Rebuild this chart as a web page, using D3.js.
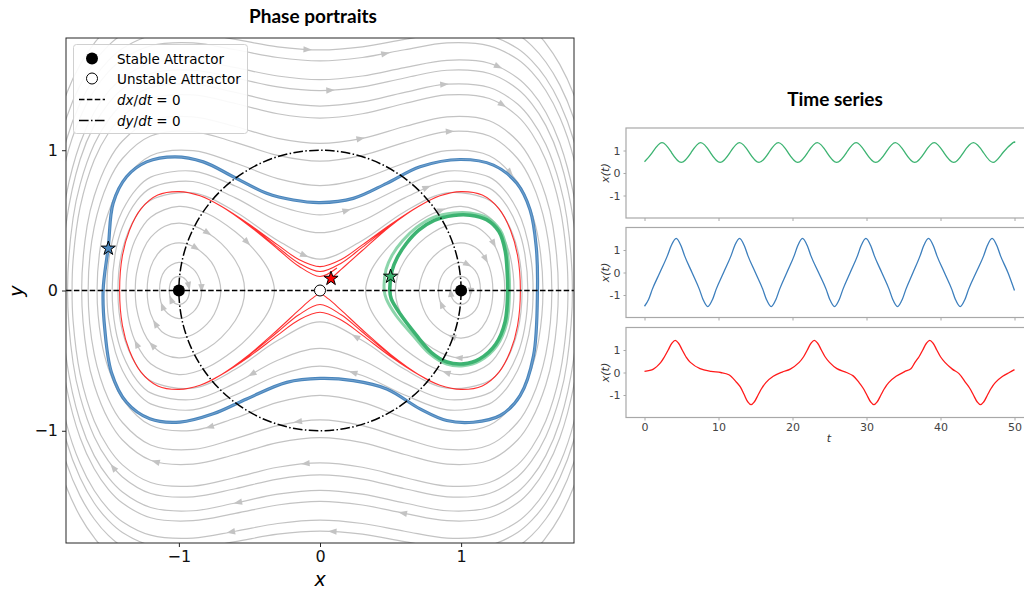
<!DOCTYPE html>
<html><head><meta charset="utf-8">
<script src="https://cdn.jsdelivr.net/npm/d3@7"></script>
<style>
body{margin:0;background:#fff;}
svg{display:block;font-family:"DejaVu Sans",sans-serif;}
</style>
</head><body>
<svg id="chart" width="1024" height="589"></svg>
<script>
// ---------------- DATA ----------------
// Gray streamlines surrounding both wells: half profiles [x>=0, y>=0], from x=0 to the turning point
const outerStreamProfiles = [
 [[0,0.224],[0.3,0.357],[0.6,0.562],[0.9,0.696],[1.2,0.643],[1.3,0.535],[1.4,0.292],[1.432,0]],
 [[0,0.412],[0.3,0.497],[0.6,0.660],[0.9,0.777],[1.2,0.730],[1.3,0.637],[1.4,0.453],[1.45,0.270],[1.473,0]],
 [[0,0.539],[0.3,0.606],[0.6,0.745],[0.9,0.851],[1.2,0.808],[1.3,0.725],[1.4,0.570],[1.45,0.439],[1.5,0.192],[1.51,0]],
 [[0,0.748],[0.3,0.798],[0.6,0.909],[0.9,0.997],[1.2,0.961],[1.4,0.772],[1.5,0.554],[1.55,0.353],[1.58,0]],
 [[0,0.922],[0.3,0.963],[0.6,1.056],[0.9,1.133],[1.2,1.101],[1.4,0.941],[1.5,0.773],[1.6,0.453],[1.643,0]],
 [[0,1.049],[0.3,1.085],[0.6,1.169],[0.9,1.238],[1.2,1.210],[1.4,1.066],[1.5,0.920],[1.6,0.674],[1.65,0.463],[1.689,0]],
 [[0,1.229],[0.3,1.260],[0.6,1.333],[0.9,1.394],[1.2,1.369],[1.4,1.243],[1.5,1.121],[1.6,0.930],[1.7,0.594],[1.75,0.214],[1.757,0]],
 [[0,1.315],[0.3,1.344],[0.6,1.413],[0.9,1.471],[1.2,1.447],[1.4,1.329],[1.5,1.215],[1.6,1.042],[1.7,0.757],[1.75,0.515],[1.789,0]],
 [[0,1.425],[0.3,1.452],[0.6,1.515],[0.9,1.570],[1.2,1.547],[1.4,1.437],[1.5,1.333],[1.6,1.177],[1.7,0.934],[1.8,0.471],[1.829,0]],
 [[0,1.503],[0.3,1.529],[0.6,1.589],[0.9,1.641],[1.2,1.620],[1.4,1.515],[1.5,1.417],[1.6,1.271],[1.7,1.050],[1.8,0.672],[1.85,0.263],[1.858,0]],
 [[0,1.637],[0.3,1.661],[0.6,1.716],[0.9,1.765],[1.2,1.744],[1.4,1.648],[1.5,1.558],[1.6,1.426],[1.7,1.234],[1.8,0.934],[1.9,0.254],[1.905,0]],
 [[0,1.715],[0.3,1.737],[0.6,1.790],[0.9,1.837],[1.2,1.817],[1.4,1.725],[1.5,1.639],[1.6,1.515],[1.7,1.335],[1.8,1.064],[1.9,0.570],[1.935,0]],
 [[0,1.817],[0.6,1.888],[1.2,1.914],[1.4,1.826],[1.5,1.746],[1.6,1.629],[1.7,1.464],[1.8,1.222],[1.9,0.827],[1.95,0.464],[1.971,0]],
 [[0,1.936],[1.2,2.028],[1.5,1.870],[1.6,1.762],[1.7,1.610],[1.8,1.394],[1.9,1.065],[2.0,0.387],[2.013,0]]
];
// Gray streamlines circling one well: upper half, left turning point -> right turning point (right well)
const wellStreamProfiles = [
 [[0.926,0],[0.95,0.076],[1.0,0.1],[1.05,0.073],[1.068,0]],
 [[0.839,0],[0.85,0.073],[0.9,0.154],[1.0,0.2],[1.1,0.142],[1.137,0]],
 [[0.703,0],[0.75,0.17],[0.8,0.238],[0.9,0.314],[1.0,0.339],[1.1,0.309],[1.15,0.261],[1.2,0.167],[1.225,0]],
 [[0.534,0],[0.55,0.105],[0.6,0.214],[0.7,0.336],[0.8,0.414],[0.9,0.462],[1.0,0.48],[1.1,0.458],[1.2,0.378],[1.25,0.296],[1.3,0.126],[1.309,0]],
 [[0.323,0],[0.35,0.116],[0.4,0.206],[0.5,0.327],[0.6,0.419],[0.8,0.549],[1.0,0.6],[1.2,0.522],[1.3,0.382],[1.35,0.236],[1.375,0]]
];

// Blue trajectory (closed orbit around both wells)
const blueOrbit = [
 [-1.537,0.0],[-1.50,0.314],[-1.466,0.622],[-1.371,0.811],[-1.229,0.917],[-1.028,0.953],[-0.827,0.917],
 [-0.615,0.811],[-0.378,0.693],[-0.189,0.645],[0,0.627],[0.236,0.657],[0.473,0.764],[0.709,0.882],
 [0.993,0.934],[1.229,0.894],[1.395,0.764],[1.489,0.574],[1.532,0.315],[1.541,0.0],[1.513,-0.466],
 [1.418,-0.749],[1.277,-0.891],[1.087,-0.939],[0.898,-0.927],[0.709,-0.844],[0.473,-0.702],[0.236,-0.643],
 [0,-0.627],[-0.236,-0.655],[-0.52,-0.773],[-0.757,-0.879],[-0.993,-0.938],[-1.206,-0.915],[-1.371,-0.797],
 [-1.478,-0.584],[-1.525,-0.277]
];
// Green trajectory (orbit inside the right well): outer and inner strands of the band
const greenOrbitOuter = [
 [0.455,0.0],[0.468,0.15],[0.51,0.25],[0.585,0.355],[0.686,0.452],[0.804,0.522],[0.946,0.553],[1.064,0.553],
 [1.182,0.52],[1.277,0.43],[1.324,0.29],[1.34,0.125],[1.343,0.0],[1.324,-0.229],[1.253,-0.395],[1.135,-0.501],
 [1.017,-0.537],[0.898,-0.525],[0.78,-0.454],[0.662,-0.324],[0.54,-0.18],[0.47,-0.06]
];
const greenOrbitInner = [
 [0.495,0],[0.51,0.14],[0.545,0.23],[0.612,0.335],[0.7,0.43],[0.81,0.5],[0.946,0.535],[1.064,0.537],
 [1.18,0.505],[1.268,0.42],[1.312,0.285],[1.327,0.125],[1.33,0],[1.312,-0.222],[1.245,-0.383],[1.13,-0.488],
 [1.017,-0.523],[0.9,-0.51],[0.79,-0.442],[0.68,-0.315],[0.57,-0.17],[0.505,-0.06]
];
// Red trajectory (near the separatrix): pieces in the order they are travelled
const redStart = [[0.078,0.085],[0.15,0.15],[0.3,0.285],[0.5,0.46]];
const redRightTop = [[0.7,0.60],[0.85,0.675],[1.0,0.705],[1.15,0.68],[1.27,0.58],[1.35,0.43],[1.40,0.25],[1.42,0]];
const redRightBottom = [[1.40,-0.25],[1.35,-0.43],[1.27,-0.58],[1.15,-0.68],[1.0,-0.705],[0.85,-0.675],[0.7,-0.60]];
const redLeftBottom = [[-0.7,-0.60],[-0.85,-0.675],[-1.0,-0.705],[-1.15,-0.68],[-1.27,-0.58],[-1.35,-0.43],[-1.40,-0.25],[-1.42,0]];
const redLeftTop = [[-1.40,0.25],[-1.35,0.43],[-1.27,0.58],[-1.15,0.68],[-1.0,0.705],[-0.85,0.675],[-0.7,0.60]];
const redCrossBottom1 = [[0.5,-0.455],[0.3,-0.28],[0.15,-0.14],[0.06,-0.06],[0,-0.025],[-0.06,-0.06],[-0.15,-0.14],[-0.3,-0.28],[-0.5,-0.455]];
const redCrossTop1 = [[-0.5,0.47],[-0.3,0.325],[-0.15,0.221],[0,0.17],[0.15,0.221],[0.3,0.325],[0.5,0.47]];
const redCrossBottom2 = [[0.5,-0.46],[0.3,-0.296],[0.15,-0.173],[0,-0.10],[-0.15,-0.173],[-0.3,-0.296],[-0.5,-0.46]];
const redCrossTop2 = [[-0.5,0.465],[-0.3,0.309],[-0.15,0.195],[0,0.135],[0.15,0.195],[0.3,0.309],[0.5,0.465]];
const redCrossBottom3 = [[0.5,-0.47],[0.3,-0.318],[0.15,-0.21],[0,-0.155],[-0.15,-0.21],[-0.3,-0.318],[-0.5,-0.47]];
const redEnd = [[-0.5,0.46],[-0.3,0.296],[-0.15,0.173],[0,0.10],[0.12,0.16]];

const stableAttractors = [[-1,0],[1,0]];
const unstableAttractors = [[0,0]];
const startPoints = [[-1.5,0.3],[0.078,0.085],[0.5,0.1]];   // blue, red, green
const dyNullclineRadius = 1;
const phaseTicks = [-1,0,1];

// Time series [t, x(t)]
const greenSeries = [[0,0.50],[1.05,0.91],[2.35,1.35],[3.65,0.91],[4.97,0.47],[6.3,0.91],[7.6,1.35],[8.9,0.91],[10.22,0.47],
 [11.55,0.91],[12.85,1.35],[14.15,0.91],[15.47,0.47],[16.8,0.91],[18.1,1.35],[19.4,0.91],[20.72,0.47],[22.05,0.91],
 [23.35,1.35],[24.65,0.91],[25.97,0.47],[27.3,0.91],[28.6,1.35],[29.9,0.91],[31.25,0.47],[32.6,0.91],[33.9,1.35],
 [35.2,0.91],[36.52,0.47],[37.85,0.91],[39.15,1.35],[40.45,0.91],[41.8,0.47],[43.1,0.91],[44.45,1.35],[45.8,0.91],
 [47.1,0.47],[48.45,0.91],[49.8,1.35],[50,1.34]];
const blueSeries = [[0,-1.50],[0.55,-1.2],[1.05,-0.75],[2.08,0],[3.1,0.75],[3.62,1.2],[4.28,1.52],
 [4.92,1.2],[5.41,0.75],[6.42,0],[7.42,-0.75],[7.91,-1.2],[8.55,-1.52],
 [9.19,-1.2],[9.68,-0.75],[10.69,0],[11.7,0.75],[12.2,1.2],[12.84,1.52],
 [13.48,1.2],[13.97,0.75],[14.98,0],[15.99,-0.75],[16.48,-1.2],[17.12,-1.52],
 [17.76,-1.2],[18.25,-0.75],[19.24,0],[20.23,0.75],[20.72,1.2],[21.35,1.52],
 [21.99,1.2],[22.48,0.75],[23.52,0],[24.55,-0.75],[25.04,-1.2],[25.68,-1.52],
 [26.32,-1.2],[26.81,-0.75],[27.8,0],[28.79,0.75],[29.28,1.2],[29.92,1.52],
 [30.56,1.2],[31.05,0.75],[32.06,0],[33.06,-0.75],[33.55,-1.2],[34.19,-1.52],
 [34.83,-1.2],[35.32,-0.75],[36.29,0],[37.25,0.75],[37.74,1.2],[38.38,1.52],
 [39.02,1.2],[39.51,0.75],[40.52,0],[41.53,-0.75],[42.02,-1.2],[42.66,-1.52],
 [43.3,-1.2],[43.79,-0.75],[44.81,0],[45.84,0.75],[46.33,1.2],[46.97,1.52],
 [47.61,1.2],[48.1,0.75],[49.11,0],[50,-0.8]];
const redSeries = [[0,0.05],[1.2,0.15],[2.2,0.45],[2.7,0.7],[3.2,1.0],[3.7,1.3],[4.15,1.43],[4.6,1.3],[5.1,1.0],[5.6,0.7],
 [6.2,0.45],[7.5,0.17],[9.0,0.05],[10.3,0.0],[11.4,-0.1],[12.4,-0.42],[12.95,-0.64],[13.45,-0.97],[13.95,-1.3],[14.4,-1.43],
 [14.85,-1.3],[15.35,-1.0],[15.85,-0.7],[16.4,-0.45],[17.4,-0.17],[18.6,0.02],[19.7,0.15],[20.9,0.45],[21.5,0.7],[22.0,1.0],
 [22.5,1.3],[22.95,1.43],[23.4,1.3],[23.9,1.0],[24.4,0.7],[25.0,0.45],[26.0,0.17],[27.3,0.0],[28.2,-0.15],[29.0,-0.45],
 [29.55,-0.7],[30.05,-1.0],[30.55,-1.3],[31.0,-1.43],[31.45,-1.3],[31.95,-1.0],[32.45,-0.7],[33.0,-0.45],[34.0,-0.17],
 [35.1,0.03],[36.0,0.17],[36.55,0.45],[37.1,0.7],[37.6,1.0],[38.1,1.3],[38.55,1.43],[39.0,1.3],[39.5,1.0],[40.0,0.7],
 [40.6,0.45],[41.6,0.15],[42.5,-0.05],[43.4,-0.45],[43.95,-0.7],[44.45,-1.0],[44.95,-1.3],[45.4,-1.43],[45.85,-1.3],
 [46.35,-1.0],[46.85,-0.7],[47.4,-0.45],[48.4,-0.17],[49.3,0.0],[50,0.13]];
const tsTicksX = [0,10,20,30,40,50];
const tsTicksY = [-1,0,1];
const legendLabels = ["Stable Attractor","Unstable Attractor","dx/dt","dy/dt"];

// ---------------- DRAWING ----------------
const svg = d3.select("#chart");
const X = d3.scaleLinear().domain([-1.8,1.8]).range([66,574]);
const Y = d3.scaleLinear().domain([-1.8,1.8]).range([543,38]);

svg.append("defs").append("clipPath").attr("id","phaseClip")
  .append("rect").attr("x",66).attr("y",38).attr("width",508).attr("height",505);

const plot = svg.append("g").attr("clip-path","url(#phaseClip)");
const closedLine = d3.line().x(d=>X(d[0])).y(d=>Y(d[1])).curve(d3.curveCatmullRomClosed.alpha(0.5));
const openLine = d3.line().x(d=>X(d[0])).y(d=>Y(d[1])).curve(d3.curveCatmullRom.alpha(0.5));

// build loops in the direction of the flow (upper half moves right)
function outerLoop(p){
  const left = p.slice(1).map(([a,b])=>[-a,b]).reverse();
  const top = left.concat(p);
  const bottom = top.slice(1,-1).reverse().map(([a,b])=>[a,-b]);
  return top.concat(bottom);
}
function wellLoop(p, mirror){
  const top = mirror ? p.map(([a,b])=>[-a,b]).reverse() : p;
  const bottom = top.slice(1,-1).reverse().map(([a,b])=>[a,-b]);
  return top.concat(bottom);
}
const grayLoops = [];
outerStreamProfiles.forEach(p=>grayLoops.push(outerLoop(p)));
wellStreamProfiles.forEach(p=>{ grayLoops.push(wellLoop(p,false)); grayLoops.push(wellLoop(p,true)); });

const gray = "#c3c3c3";
const streamG = plot.append("g");
const arrowShape = "M4.5,0L-4,-3.2L-4,3.2Z";
grayLoops.forEach((loop,i)=>{
  const path = streamG.append("path").attr("d",closedLine(loop))
    .attr("fill","none").attr("stroke",gray).attr("stroke-width",1.2);
  const node = path.node(), L = node.getTotalLength();
  const fr = [0.2 + ((i*7)%11)/60, 0.68 + ((i*5)%9)/50];
  fr.forEach(f=>{
    const a = node.getPointAtLength(f*L), b = node.getPointAtLength(Math.min(L, f*L+1.5));
    const ang = Math.atan2(b.y-a.y, b.x-a.x)*180/Math.PI;
    streamG.append("path").attr("d",arrowShape).attr("fill",gray)
      .attr("transform",`translate(${a.x},${a.y}) rotate(${ang})`);
  });
});

// trajectories
plot.append("path").attr("d",closedLine(blueOrbit)).attr("fill","none")
  .attr("stroke","#4a86bd").attr("stroke-width",3.2);
plot.append("path").attr("d",closedLine(blueOrbit)).attr("fill","none")
  .attr("stroke","#a9c6e2").attr("stroke-width",0.6).attr("opacity",0.7);

const redPath = [].concat(redStart, redRightTop, redRightBottom, redCrossBottom1, redLeftBottom, redLeftTop,
  redCrossTop1, redRightTop, redRightBottom, redCrossBottom2, redLeftBottom, redLeftTop,
  redCrossTop2, redRightTop, redRightBottom, redCrossBottom3, redLeftBottom, redLeftTop, redEnd);
plot.append("path").attr("d",openLine(redPath)).attr("fill","none")
  .attr("stroke","#ff1a1a").attr("stroke-width",1.1).attr("opacity",0.9);

plot.append("path").attr("d",closedLine(greenOrbitOuter)).attr("fill","none")
  .attr("stroke","#7fd0a2").attr("stroke-width",3).attr("opacity",0.9);
plot.append("path").attr("d",closedLine(greenOrbitInner)).attr("fill","none")
  .attr("stroke","#3cb371").attr("stroke-width",3.6);

// nullclines
plot.append("line").attr("x1",X(-1.8)).attr("x2",X(1.8)).attr("y1",Y(0)).attr("y2",Y(0))
  .attr("stroke","#000").attr("stroke-width",1.5).attr("stroke-dasharray","5.5,2.4");
plot.append("ellipse").attr("cx",X(0)).attr("cy",Y(0))
  .attr("rx",X(dyNullclineRadius)-X(0)).attr("ry",Y(0)-Y(dyNullclineRadius))
  .attr("fill","none").attr("stroke","#000").attr("stroke-width",1.5)
  .attr("stroke-dasharray","9.6,2.4,1.5,2.4");

// attractors
plot.selectAll(".stable").data(stableAttractors).enter().append("circle")
  .attr("cx",d=>X(d[0])).attr("cy",d=>Y(d[1])).attr("r",6).attr("fill","#000");
plot.selectAll(".unstable").data(unstableAttractors).enter().append("circle")
  .attr("cx",d=>X(d[0])).attr("cy",d=>Y(d[1])).attr("r",5.5).attr("fill","#fff")
  .attr("stroke","#000").attr("stroke-width",1);
const starColors = ["#4a86bd","#ff0000","#3cb371"];
plot.selectAll(".star").data(startPoints).enter().append("path")
  .attr("d",d3.symbol(d3.symbolStar,62)())
  .attr("transform",d=>`translate(${X(d[0])},${Y(d[1])})`)
  .attr("fill",(d,i)=>starColors[i]).attr("stroke","#000").attr("stroke-width",1);

// frame & axes
svg.append("rect").attr("x",66).attr("y",38).attr("width",508).attr("height",505)
  .attr("fill","none").attr("stroke","#262626").attr("stroke-width",1);
const fmtMinus = d => d<0 ? "\u2212"+Math.abs(d) : String(d);
const xAx = svg.append("g").attr("transform","translate(0,543)")
  .call(d3.axisBottom(X).tickValues(phaseTicks).tickFormat(fmtMinus).tickSize(4).tickPadding(4));
const yAx = svg.append("g").attr("transform","translate(66,0)")
  .call(d3.axisLeft(Y).tickValues(phaseTicks).tickFormat(fmtMinus).tickSize(4).tickPadding(4));
[xAx,yAx].forEach(a=>{
  a.select(".domain").remove();
  a.selectAll("line").attr("stroke","#262626");
  a.selectAll("text").attr("font-size",16).attr("fill","#111").attr("font-family","DejaVu Sans");
});
svg.append("text").attr("x",320).attr("y",586).attr("text-anchor","middle")
  .attr("font-size",19).attr("font-style","italic").text("x");
svg.append("text").attr("transform","translate(23,291) rotate(-90)").attr("text-anchor","middle")
  .attr("font-size",19).attr("font-style","italic").text("y");
svg.append("text").attr("x",313).attr("y",23).attr("text-anchor","middle")
  .attr("font-family","Lato").attr("font-weight","bold").attr("font-size",19).text("Phase portraits");

// legend
const lg = svg.append("g");
lg.append("rect").attr("x",73.5).attr("y",44.5).attr("width",174).attr("height",89).attr("rx",3)
  .attr("fill","#fff").attr("fill-opacity",0.9).attr("stroke","#d0d0d0");
const rows = [58.5,78.5,99.5,120.5];
lg.append("circle").attr("cx",92).attr("cy",rows[0]).attr("r",6).attr("fill","#000");
lg.append("circle").attr("cx",92).attr("cy",rows[1]).attr("r",5.5).attr("fill","#fff").attr("stroke","#000");
lg.append("line").attr("x1",79).attr("x2",105).attr("y1",rows[2]).attr("y2",rows[2])
  .attr("stroke","#000").attr("stroke-width",1.5).attr("stroke-dasharray","5.5,2.4");
lg.append("line").attr("x1",79).attr("x2",105).attr("y1",rows[3]).attr("y2",rows[3])
  .attr("stroke","#000").attr("stroke-width",1.5).attr("stroke-dasharray","9.6,2.4,1.5,2.4");
[0,1].forEach(i=>lg.append("text").attr("x",117).attr("y",rows[i]+5).attr("font-size",13.5).text(legendLabels[i]));
[2,3].forEach(i=>{
  const t = lg.append("text").attr("x",117).attr("y",rows[i]+5).attr("font-size",13.5);
  const [num,den] = legendLabels[i].split("/");
  t.append("tspan").attr("font-style","italic").text(num);
  t.append("tspan").text("/");
  t.append("tspan").attr("font-style","italic").text(den);
  t.append("tspan").text(" = 0");
});

// ---------------- TIME SERIES ----------------
svg.append("text").attr("x",835).attr("y",106).attr("text-anchor","middle")
  .attr("font-family","Lato").attr("font-weight","bold").attr("font-size",19).text("Time series");
const TX = d3.scaleLinear().domain([-2.5,52.5]).range([626,1033]);
const panels = [
  {data:greenSeries, color:"#3cb371", top:128, curve:d3.curveNatural},
  {data:blueSeries, color:"#3d7fbd", top:227.5, curve:d3.curveMonotoneX},
  {data:redSeries, color:"#ff1a1a", top:327.5, curve:d3.curveCatmullRom.alpha(0.5)}
];
const spine = "#a8a8a8";
panels.forEach((p,i)=>{
  const h = 90;
  const TY = d3.scaleLinear().domain([-2,2]).range([p.top+h, p.top]);
  const cid = "tsClip"+i;
  svg.select("defs").append("clipPath").attr("id",cid).append("rect")
    .attr("x",626).attr("y",p.top).attr("width",407).attr("height",h);
  svg.append("path").attr("clip-path",`url(#${cid})`)
    .attr("d", d3.line().x(d=>TX(d[0])).y(d=>TY(d[1])).curve(p.curve)(p.data))
    .attr("fill","none").attr("stroke",p.color).attr("stroke-width",1.3);
  svg.append("rect").attr("x",626).attr("y",p.top).attr("width",407).attr("height",h)
    .attr("fill","none").attr("stroke",spine).attr("stroke-width",1.2);
  const xa = svg.append("g").attr("transform",`translate(0,${p.top+h})`)
    .call(d3.axisBottom(TX).tickValues(tsTicksX).tickSize(3).tickPadding(3)
      .tickFormat(i===2 ? d=>String(d) : ""));
  const ya = svg.append("g").attr("transform","translate(626,0)")
    .call(d3.axisLeft(TY).tickValues(tsTicksY).tickSize(2.5).tickPadding(3).tickFormat(d=>String(d)));
  [xa,ya].forEach(a=>{
    a.select(".domain").remove();
    a.selectAll("line").attr("stroke",spine);
    a.selectAll("text").attr("font-size",11).attr("fill","#444").attr("font-family","DejaVu Sans");
  });
  svg.append("text").attr("transform",`translate(609,${p.top+h/2}) rotate(-90)`)
    .attr("text-anchor","middle").attr("font-size",11).attr("fill","#333").attr("font-style","italic").text("x(t)");
});
svg.append("text").attr("x",829).attr("y",442).attr("text-anchor","middle")
  .attr("font-size",11).attr("fill","#333").attr("font-style","italic").text("t");
</script>
</body></html>
